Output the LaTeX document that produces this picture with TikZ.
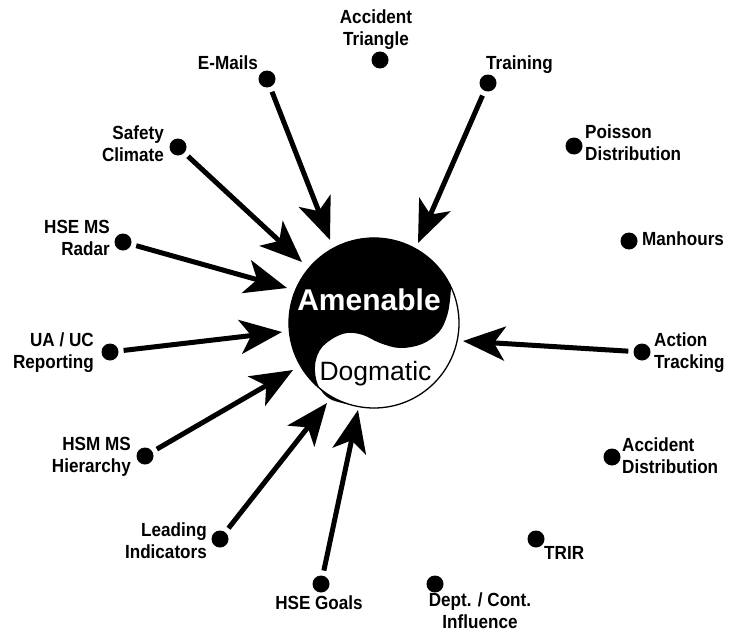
\documentclass[tikz,border=0pt]{standalone}
\usepackage{fontspec}
\setmainfont{Liberation Sans}
\newfontfamily\lblfont[FakeStretch=0.9]{Liberation Sans}
\usetikzlibrary{arrows.meta}

\begin{document}
\begin{tikzpicture}[x=1pt,y=-1pt,
  dot/.style={circle, fill=black, minimum size=17pt, inner sep=0pt},
  lbl/.style={font=\lblfont\bfseries\fontsize{19}{22}\selectfont, inner sep=0pt},
  feed/.style={line width=5pt, -{Stealth[length=42pt,width=34pt,inset=11pt]}, shorten <=5pt},
]
\fill[white] (0,0) rectangle (730,634);
\useasboundingbox (0,0) rectangle (730,634);

% ---- yin-yang centre ----
\coordinate (yc) at (374,323);
\fill[black] (451,287) arc[start angle=-25, end angle=-255, radius=85]
  -- plot[smooth, tension=0.6] coordinates {(352,405) (330,399) (318,385) (315,366) (320,350) (332,339) (347,333) (363,335) (380,343) (400,348) (422,344) (439,332) (447,316) (450,300) (451,287)}
  -- cycle;
\draw[line width=1.3pt] (yc) circle[radius=85];
\node[text=white, font=\bfseries\fontsize{30}{36}\selectfont, anchor=base, inner sep=0pt] (amen) at (369,310) {Amenable};
\node[font=\fontsize{26.5}{32}\selectfont, anchor=base, inner sep=0pt] (dogm) at (375.5,380) {Dogmatic};

% ---- dots ----
\node[dot] (acctri)   at (380,60)  {};
\node[dot] (emails)   at (267,79)  {};
\node[dot] (training) at (488,83)  {};
\node[dot] (safety)   at (178,147) {};
\node[dot] (poisson)  at (574,146) {};
\node[dot] (radar)    at (123,242) {};
\node[dot] (manhours) at (629,241) {};
\node[dot] (uauc)     at (110,352) {};
\node[dot] (action)   at (642,352) {};
\node[dot] (hier)     at (145,456) {};
\node[dot] (accdist)  at (612,457) {};
\node[dot] (leading)  at (220,539) {};
\node[dot] (trir)     at (536,539) {};
\node[dot] (goals)    at (321,584) {};
\node[dot] (dept)     at (435,584) {};

% ---- labels ----
\node[lbl, align=center]            (lacctri)   at (376,30)  {Accident\\Triangle};
\node[lbl, anchor=east]             (lemails)   at (258,63)  {E-Mails};
\node[lbl, anchor=west]             (ltraining) at (486,65)  {Training};
\node[lbl, anchor=east, align=right](lsafety)   at (164,144) {Safety\\Climate};
\node[lbl, anchor=west, align=left] (lpoisson)  at (585,143) {Poisson\\Distribution};
\node[lbl, anchor=east, align=right](lradar)    at (110,238) {HSE MS\\Radar};
\node[lbl, anchor=west]             (lmanhours) at (642,239) {Manhours};
\node[lbl, anchor=east, align=right](luauc)     at (94,353)  {UA / UC\\Reporting};
\node[lbl, anchor=west, align=left] (laction)   at (654,353) {Action\\Tracking};
\node[lbl, anchor=east, align=right](lhier)     at (131,457) {HSM MS\\Hierarchy};
\node[lbl, anchor=west, align=left] (laccdist)  at (622,456) {Accident\\Distribution};
\node[lbl, anchor=east, align=right](lleading)  at (207,541) {Leading\\Indicators};
\node[lbl, anchor=west]             (ltrir)     at (544,553) {TRIR};
\node[lbl]                          (lgoals)    at (319,603) {HSE Goals};
\node[lbl, align=center]            (ldept)     at (480,611) {Dept. / Cont.\\Influence};

% ---- arrow tips at the rim ----
\coordinate (tEmails)   at (330,240);
\coordinate (tTraining) at (418,243);
\coordinate (tSafety)   at (302,262);
\coordinate (tRadar)    at (287,288);
\coordinate (tUauc)     at (282,332);
\coordinate (tHier)     at (293,370);
\coordinate (tLeading)  at (327,403);
\coordinate (tGoals)    at (358,410);
\coordinate (tAction)   at (463,341);

% ---- connectors ----
\draw[feed] (emails)   -- (tEmails);
\draw[feed] (training) -- (tTraining);
\draw[feed] (safety)   -- (tSafety);
\draw[feed] (radar)    -- (tRadar);
\draw[feed] (uauc)     -- (tUauc);
\draw[feed] (hier)     -- (tHier);
\draw[feed] (leading)  -- (tLeading);
\draw[feed] (goals)    -- (tGoals);
\draw[feed] (action)   -- (tAction);
\end{tikzpicture}
\end{document}
